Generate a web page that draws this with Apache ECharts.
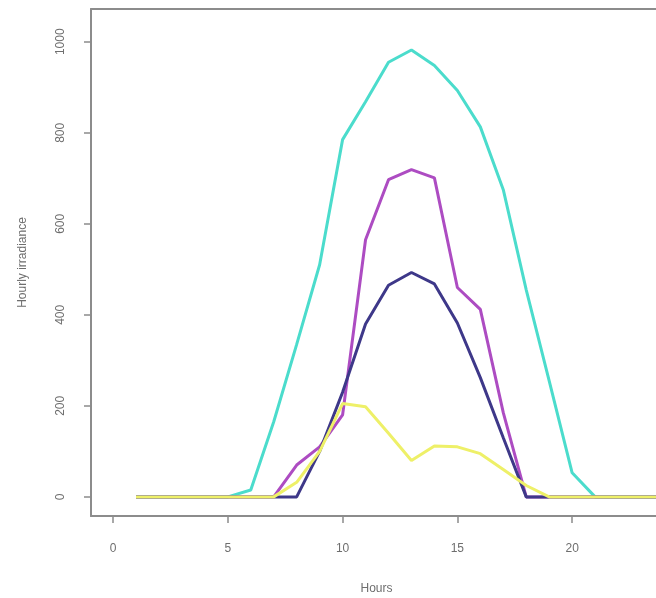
<!DOCTYPE html>
<html>
<head>
<meta charset="utf-8">
<script src="https://cdn.jsdelivr.net/npm/echarts@6/dist/echarts.min.js"></script>
<style>
  html, body { margin: 0; padding: 0; background: #fff; }
  #chart { width: 656px; height: 598px; }
</style>
</head>
<body>
<div id="chart"></div>
<script>
// hourly irradiance, hours 1..24
var hours = [1, 2, 3, 4, 5, 6, 7, 8, 9, 10, 11, 12, 13, 14, 15, 16, 17, 18, 19, 20, 21, 22, 23, 24];
var turquoiseSeries = [0, 0, 0, 0, 0, 15, 165, 335, 510, 785, 868, 955, 982, 948, 893, 813, 675, 455, 255, 53, 0, 0, 0, 0];
var orchidSeries = [0, 0, 0, 0, 0, 0, 0, 70, 110, 180, 565, 697, 719, 701, 460, 412, 185, 0, 0, 0, 0, 0, 0, 0];
var navySeries = [0, 0, 0, 0, 0, 0, 0, 0, 100, 230, 380, 465, 493, 468, 382, 262, 130, 0, 0, 0, 0, 0, 0, 0];
var yellowSeries = [0, 0, 0, 0, 0, 0, 0, 32, 100, 205, 198, 140, 80, 112, 110, 95, 60, 25, 0, 0, 0, 0, 0, 0];

var xTicks = [0, 5, 10, 15, 20];
var yTicks = [0, 200, 400, 600, 800, 1000];

function pairs(values) {
    var out = [];
    for (var i = 0; i < hours.length; i++) {
        out.push([hours[i], values[i]]);
    }
    return out;
}

function lineSeries(values, color) {
    return {
        type: 'line',
        data: pairs(values),
        symbol: 'none',
        lineStyle: { color: color, width: 3 },
        itemStyle: { color: color },
        animation: false
    };
}

var myChart = echarts.init(document.getElementById('chart'));

var axisGray = '#8c8c8c';
var textGray = '#6e6e6e';
var font = 'Liberation Sans, Arial, sans-serif';

var option = {
    backgroundColor: '#fff',
    grid: {
        left: 91,
        top: 9,
        width: 595,
        height: 507,
        outerBoundsMode: 'none',
        show: false
    },
    xAxis: [{
        type: 'value',
        position: 'bottom',
        min: -0.96,
        max: 24.96,
        name: 'Hours',
        nameLocation: 'middle',
        nameGap: 67,
        nameTextStyle: { color: textGray, fontFamily: font, fontSize: 12, padding: [0, 24, 0, 0] },
        axisLine: { show: true, onZero: false, lineStyle: { color: axisGray, width: 2 } },
        splitLine: { show: false },
        axisTick: { show: true, inside: false, length: 7, customValues: xTicks, lineStyle: { color: axisGray, width: 1.5 } },
        axisLabel: { customValues: xTicks, color: textGray, fontFamily: font, fontSize: 12, margin: 27 }
    }, {
        // top frame line only
        type: 'value',
        position: 'top',
        min: -0.96,
        max: 24.96,
        axisLine: { show: true, onZero: false, lineStyle: { color: axisGray, width: 2 } },
        splitLine: { show: false },
        axisTick: { show: false },
        axisLabel: { show: false }
    }],
    yAxis: {
        type: 'value',
        min: -42,
        max: 1072,
        name: 'Hourly irradiance',
        nameLocation: 'middle',
        nameGap: 62,
        nameTextStyle: { color: textGray, fontFamily: font, fontSize: 12 },
        axisLine: { show: true, onZero: false, lineStyle: { color: axisGray, width: 2 } },
        splitLine: { show: false },
        axisTick: { show: true, inside: false, length: 7, customValues: yTicks, lineStyle: { color: axisGray, width: 1.5 } },
        axisLabel: {
            customValues: yTicks,
            rotate: 90,
            color: textGray,
            fontFamily: font,
            fontSize: 12,
            margin: 24,
            formatter: function (v) { return String(v); }
        }
    },
    series: [
        lineSeries(turquoiseSeries, '#4bdccc'),
        lineSeries(orchidSeries, '#ad4cc2'),
        lineSeries(navySeries, '#3e3889'),
        lineSeries(yellowSeries, '#eef068')
    ]
};

myChart.setOption(option);
</script>
</body>
</html>
